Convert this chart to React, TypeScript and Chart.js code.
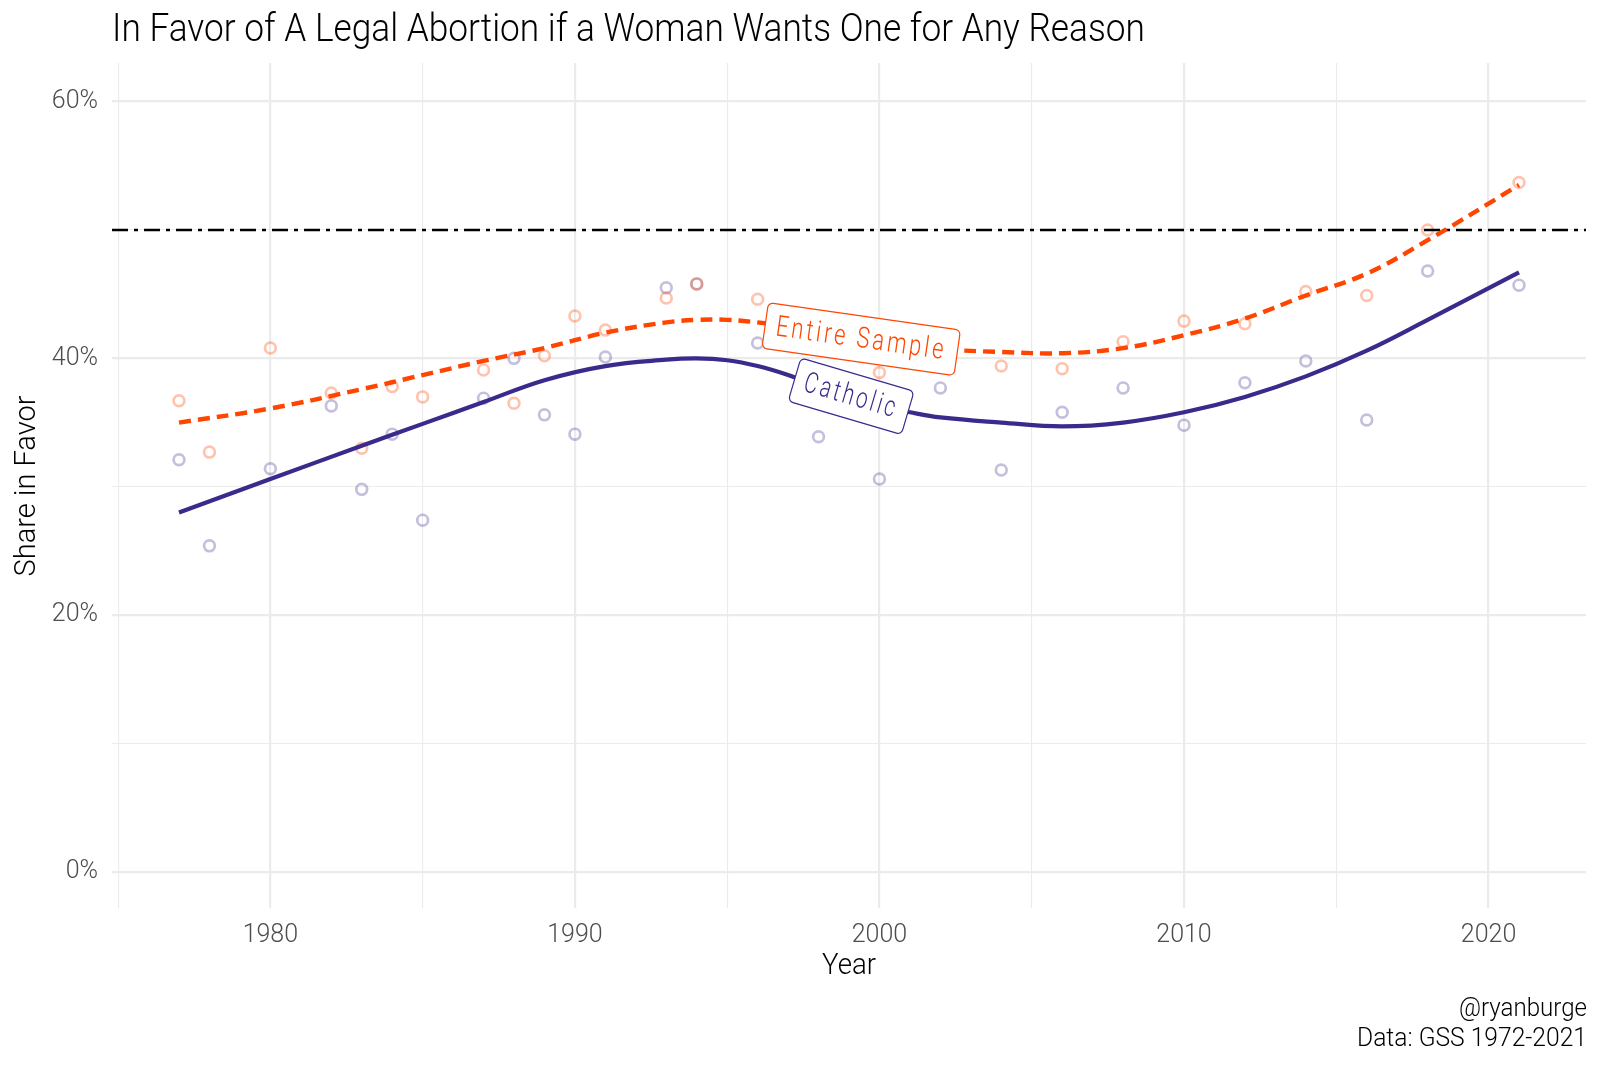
import React, { useEffect, useRef } from "react";
import { Chart, registerables } from "chart.js";

Chart.register(...registerables);

// ---- data ----
const surveyYears = [1977, 1978, 1980, 1982, 1983, 1984, 1985, 1987, 1988, 1989, 1990, 1991, 1993, 1994, 1996, 1998, 2000, 2002, 2004, 2006, 2008, 2010, 2012, 2014, 2016, 2018, 2021];
const entireShare = [36.7, 32.7, 40.8, 37.3, 33.0, 37.8, 37.0, 39.1, 36.5, 40.2, 43.3, 42.2, 44.7, 45.8, 44.6, 41.5, 38.9, 41.0, 39.4, 39.2, 41.3, 42.9, 42.7, 45.2, 44.9, 50.0, 53.7];
const catholicShare = [32.1, 25.4, 31.4, 36.3, 29.8, 34.1, 27.4, 36.9, 40.0, 35.6, 34.1, 40.1, 45.5, 45.8, 41.2, 33.9, 30.6, 37.7, 31.3, 35.8, 37.7, 34.8, 38.1, 39.8, 35.2, 46.8, 45.7];

const fitYears = [1977, 1980, 1983, 1985, 1987, 1989, 1991, 1993, 1994, 1995, 1996, 1997, 1998, 1999, 2000, 2001, 2002, 2004, 2006, 2008, 2010, 2012, 2014, 2016, 2018, 2021];
const catholicFit = [28.0, 30.6, 33.2, 34.9, 36.6, 38.3, 39.4, 39.9, 40.0, 39.85, 39.4, 38.7, 37.8, 37.0, 36.3, 35.8, 35.4, 35.0, 34.7, 35.0, 35.8, 37.0, 38.6, 40.6, 43.0, 46.7];
const entireFit = [35.0, 36.1, 37.6, 38.7, 39.8, 40.8, 42.0, 42.8, 43.0, 43.0, 42.8, 42.5, 42.1, 41.7, 41.3, 40.9, 40.7, 40.5, 40.4, 40.8, 41.8, 43.1, 44.9, 46.6, 49.2, 53.5];

const referenceShare = 50;

const xTickValues = [1975, 1980, 1985, 1990, 1995, 2000, 2005, 2010, 2015, 2020];
const yTickValues = [0, 10, 20, 30, 40, 50, 60];

const seriesNames = ["Entire Sample", "Catholic"];
const labelYears = [1999.4, 1999.07];
const labelShares = [41.5, 37.05];

const titleText = "In Favor of A Legal Abortion if a Woman Wants One for Any Reason";
const xTitle = "Year";
const yTitle = "Share in Favor";
const captionLines = ["@ryanburge", "Data: GSS 1972-2021"];

// ---- style ----
const ORANGE = "#FF4500";
const PURPLE = "#3A2A8C";
const FONT = "Roboto, 'Liberation Sans', sans-serif";
const X_MIN = 1974.8;
const X_MAX = 2023.2;
const Y_MIN = -2.8;
const Y_MAX = 63;

function fitText(ctx: CanvasRenderingContext2D, text: string, x: number, y: number, width: number, align: "left" | "center" | "right") {
  const w = ctx.measureText(text).width;
  const s = width / w;
  ctx.save();
  ctx.translate(x, y);
  ctx.scale(s, 1);
  ctx.textAlign = align;
  ctx.textBaseline = "middle";
  ctx.fillText(text, 0, 0);
  ctx.restore();
}

function roundRect(ctx: CanvasRenderingContext2D, x: number, y: number, w: number, h: number, r: number) {
  ctx.beginPath();
  ctx.moveTo(x + r, y);
  ctx.lineTo(x + w - r, y);
  ctx.arcTo(x + w, y, x + w, y + r, r);
  ctx.lineTo(x + w, y + h - r);
  ctx.arcTo(x + w, y + h, x + w - r, y + h, r);
  ctx.lineTo(x + r, y + h);
  ctx.arcTo(x, y + h, x, y + h - r, r);
  ctx.lineTo(x, y + r);
  ctx.arcTo(x, y, x + r, y, r);
  ctx.closePath();
}

const textPlugin = {
  id: "textPlugin",
  afterDatasetsDraw(chart: any) {
    const ctx: CanvasRenderingContext2D = chart.ctx;
    const xs = chart.scales.x;
    const ys = chart.scales.y;
    const labelStyles = [
      { color: ORANGE, angle: 8.1, w: 194, h: 46, textW: 172 },
      { color: PURPLE, angle: 16.4, w: 118, h: 45, textW: 97 },
    ];
    seriesNames.forEach((name, i) => {
      const st = labelStyles[i];
      const cx = xs.getPixelForValue(labelYears[i]);
      const cy = ys.getPixelForValue(labelShares[i]);
      ctx.save();
      ctx.translate(cx, cy);
      ctx.rotate((st.angle * Math.PI) / 180);
      roundRect(ctx, -st.w / 2, -st.h / 2, st.w, st.h, 5);
      ctx.fillStyle = "#ffffff";
      ctx.fill();
      ctx.lineWidth = 1.2;
      ctx.strokeStyle = st.color;
      ctx.stroke();
      ctx.fillStyle = st.color;
      ctx.font = `300 29px ${FONT}`;
      (ctx as any).letterSpacing = "4px";
      fitText(ctx, name, 0, 1, st.textW, "center");
      ctx.restore();
    });
  },
  afterDraw(chart: any) {
    const ctx: CanvasRenderingContext2D = chart.ctx;
    ctx.save();
    ctx.fillStyle = "#000000";
    ctx.font = `300 38px ${FONT}`;
    fitText(ctx, titleText, 112, 31, 1033, "left");

    ctx.font = `300 30px ${FONT}`;
    fitText(ctx, xTitle, 849, 966, 54, "center");

    ctx.save();
    ctx.translate(27, 486);
    ctx.rotate(-Math.PI / 2);
    fitText(ctx, yTitle, 0, 0, 181, "center");
    ctx.restore();

    ctx.font = `300 25px ${FONT}`;
    fitText(ctx, captionLines[0], 1587, 1010, 128, "right");
    fitText(ctx, captionLines[1], 1587, 1040, 230, "right");
    ctx.restore();
  },
};

export default function App() {
  const ref = useRef<HTMLCanvasElement | null>(null);

  useEffect(() => {
    if (!ref.current) return;
    const pts = (vals: number[]) => surveyYears.map((x, i) => ({ x, y: vals[i] }));
    const fit = (vals: number[]) => fitYears.map((x, i) => ({ x, y: vals[i] }));

    const chart = new Chart(ref.current, {
      type: "scatter",
      data: {
        datasets: [
          {
            type: "line",
            label: "Catholic fit",
            data: fit(catholicFit),
            borderColor: PURPLE,
            borderWidth: 4.2,
            pointRadius: 0,
            fill: false,
            tension: 0.4,
          } as any,
          {
            type: "line",
            label: "Entire fit",
            data: fit(entireFit),
            borderColor: ORANGE,
            borderWidth: 4.4,
            borderDash: [12, 7],
            pointRadius: 0,
            fill: false,
            tension: 0.4,
          } as any,
          {
            type: "line",
            label: "50%",
            data: [
              { x: X_MIN, y: referenceShare },
              { x: X_MAX, y: referenceShare },
            ],
            borderColor: "#000000",
            borderWidth: 2.6,
            borderDash: [16, 6, 4, 6],
            pointRadius: 0,
            fill: false,
          } as any,
          {
            label: "Entire points",
            data: pts(entireShare),
            pointStyle: "circle",
            pointRadius: 5.4,
            pointBorderWidth: 2.7,
            borderColor: "rgba(255,69,0,0.32)",
            backgroundColor: "rgba(0,0,0,0)",
          } as any,
          {
            label: "Catholic points",
            data: pts(catholicShare),
            pointStyle: "circle",
            pointRadius: 5.4,
            pointBorderWidth: 2.7,
            borderColor: "rgba(58,42,140,0.3)",
            backgroundColor: "rgba(0,0,0,0)",
          } as any,
        ],
      },
      options: {
        responsive: false,
        devicePixelRatio: 1,
        animation: false,
        layout: { padding: { top: 63, right: 14, left: 0, bottom: 0 } },
        plugins: {
          legend: { display: false },
          tooltip: { enabled: false },
          title: { display: false },
        },
        scales: {
          x: {
            type: "linear",
            min: X_MIN,
            max: X_MAX,
            afterBuildTicks: (scale: any) => {
              scale.ticks = xTickValues.map((v) => ({ value: v }));
            },
            afterFit: (scale: any) => {
              scale.height = 158;
            },
            ticks: {
              autoSkip: false,
              maxRotation: 0,
              padding: 13,
              color: "#4D4D4D",
              font: { family: FONT, size: 25, weight: "300" as any },
              callback: (v: any) => (Number(v) % 10 === 0 ? String(v) : ""),
            },
            grid: {
              color: "#EBEBEB",
              lineWidth: (c: any) => (c.tick && c.tick.value % 10 === 0 ? 2.2 : 1.1),
              drawTicks: false,
            },
            border: { display: false },
          },
          y: {
            type: "linear",
            min: Y_MIN,
            max: Y_MAX,
            afterBuildTicks: (scale: any) => {
              scale.ticks = yTickValues.map((v) => ({ value: v }));
            },
            afterFit: (scale: any) => {
              scale.width = 112;
            },
            ticks: {
              autoSkip: false,
              padding: 14,
              color: "#4D4D4D",
              font: { family: FONT, size: 25, weight: "300" as any },
              callback: (v: any) => (Number(v) % 20 === 0 ? `${v}%` : ""),
            },
            grid: {
              color: "#EBEBEB",
              lineWidth: (c: any) => (c.tick && c.tick.value % 20 === 0 ? 2.2 : 1.1),
              drawTicks: false,
            },
            border: { display: false },
          },
        },
      },
      plugins: [textPlugin],
    });
    return () => chart.destroy();
  }, []);

  return (
    <canvas
      ref={ref}
      width={1600}
      height={1066}
      style={{ position: "absolute", left: 0, top: 0, width: 1600, height: 1066, background: "#ffffff" }}
    />
  );
}
